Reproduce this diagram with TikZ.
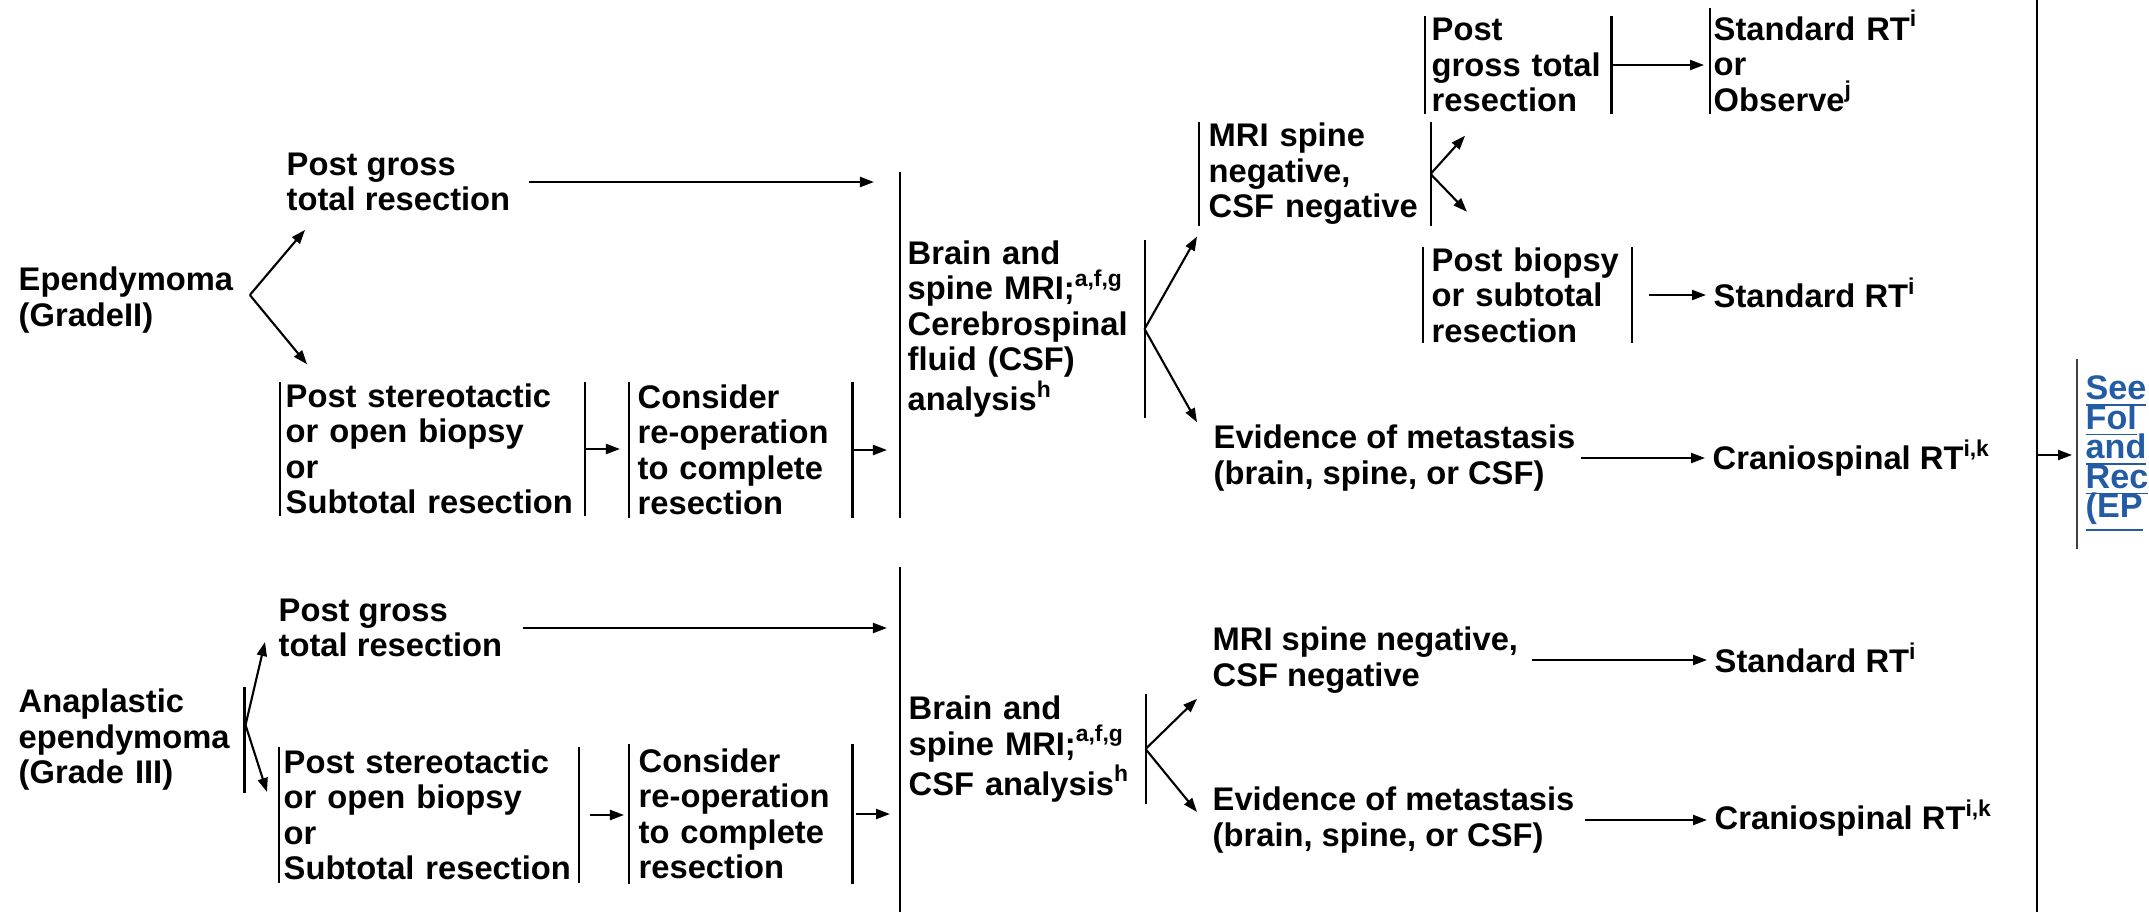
\documentclass[tikz,border=0pt]{standalone}
\usepackage{fontspec}
\setmainfont{Liberation Sans}
\usetikzlibrary{arrows.meta,calc}
\definecolor{linkblue}{RGB}{35,92,165}
\newcommand\dtext{\fontsize{9.3pt}{10.1pt}\selectfont\bfseries}
\newcommand\linktext{\fontsize{9.7pt}{8.4pt}\selectfont\bfseries\lineskiplimit=-5pt}
\begin{document}
\begin{tikzpicture}[x=0.01cm,y=-0.01cm,
  every node/.style={font=\dtext, align=left, anchor=west, inner sep=0pt},
  bar/.style={line width=0.6pt},
  arr/.style={line width=0.6pt, -{Triangle[length=1.4mm,width=1.0mm]}}]
\useasboundingbox (0,0) rectangle (2149,912);

% ---------- Ependymoma (upper pathway) ----------
\node (ep1) at (18,300) {Ependymoma\\(GradeII)};
\node (pg1) at (286,182) {Post gross\\total resection};
\node[inner xsep=0.05cm, text width=2.93cm, minimum height=1.32cm] (ps1) at (280,449)
  {Post stereotactic\\or open biopsy\\or\\Subtotal resection};
\node[inner xsep=0.08cm, text width=2.06cm, minimum height=1.35cm] (c1) at (629,450)
  {Consider\\re-operation\\to complete\\resection};
\node[inner xsep=0.07cm, text width=2.29cm, minimum height=1.70cm] (b1) at (900,329)
  {Brain and\\spine MRI;\textsuperscript{a,f,g}\\Cerebrospinal\\fluid (CSF)\\analysis\textsuperscript{h}};
\node[inner xsep=0.09cm, text width=2.12cm, minimum height=0.93cm] (m1) at (1199,174)
  {MRI spine\\negative,\\CSF negative};
\node[inner xsep=0.06cm, text width=1.73cm, minimum height=0.96cm] (g1) at (1425,65)
  {Post\\gross total\\resection};
\node[inner xsep=0.03cm, text width=2.5cm, minimum height=1.05cm] (s1) at (1710,61)
  {Standard RT\textsuperscript{i}\\or\\Observe\textsuperscript{j}};
\node[inner xsep=0.08cm, text width=1.91cm, minimum height=0.95cm] (p1) at (1423,295)
  {Post biopsy\\or subtotal\\resection};
\node[inner xsep=0.07cm] (s2) at (1706,293) {Standard RT\textsuperscript{i}};
\node (e1) at (1213,458) {Evidence of metastasis\\(brain, spine, or CSF)};
\node[inner xsep=0.07cm] (cr1) at (1705,458) {Craniospinal RT\textsuperscript{i,k}};

% ---------- Anaplastic ependymoma (lower pathway) ----------
\node[inner xsep=0.06cm, text width=2.19cm, minimum height=1.05cm] (an) at (12,740)
  {Anaplastic\\ependymoma\\(Grade III)};
\node (pg2) at (278,628) {Post gross\\total resection};
\node[inner xsep=0.04cm, text width=2.90cm, minimum height=1.35cm] (ps2) at (279,815)
  {Post stereotactic\\or open biopsy\\or\\Subtotal resection};
\node[inner xsep=0.09cm, text width=2.04cm, minimum height=1.38cm] (c2) at (629,814)
  {Consider\\re-operation\\to complete\\resection};
\node[inner xsep=0.08cm, text width=2.28cm, minimum height=1.09cm] (b2) at (900,749)
  {Brain and\\spine MRI;\textsuperscript{a,f,g}\\CSF analysis\textsuperscript{h}};
\node (m2) at (1212,660) {MRI spine negative,\\CSF negative};
\node[inner xsep=0.07cm] (s3) at (1707,658) {Standard RT\textsuperscript{i}};
\node (e2) at (1212,820) {Evidence of metastasis\\(brain, spine, or CSF)};
\node[inner xsep=0.07cm] (cr2) at (1707,818) {Craniospinal RT\textsuperscript{i,k}};

% ---------- shared follow-up link ----------
\coordinate (bbtop) at (2037,0);
\coordinate (bbbot) at (2037,912);
\coordinate (bbmid) at (2037,455);
\node[inner xsep=0.08cm, minimum height=1.88cm, font=\linktext, text=linkblue] (ep) at (2077,454)
  {\underline{See}\\\underline{Fol}\\\underline{and}\\\underline{Rec}\\\underline{(EP}};

% ---------- bracket bars ----------
\foreach \n in {ps1,c1,m1,g1,p1,ps2,c2}
  \draw[bar] (\n.north west) -- (\n.south west) (\n.north east) -- (\n.south east);
\draw[bar] (s1.north west) -- (s1.south west);
\draw[bar] (an.north east) -- (an.south east);
\draw[bar] ($(b1.west)+(0,-157)$) -- ($(b1.west)+(0,189)$);
\draw[bar] (b1.north east) -- (b1.south east);
\draw[bar] ($(b2.west)+(0,-182)$) -- ($(b2.west)+(0,163)$);
\draw[bar] (b2.north east) -- (b2.south east);
\draw[bar, line width=0.8pt] (bbtop) -- (bbbot);
\draw[bar, draw=black!75] (ep.north west) -- (ep.south west);

% ---------- connectors, upper pathway ----------
\coordinate (f1) at ($(ep1.east)+(16,-5)$);
\draw[arr] (f1) -- ($(pg1.south west)+(19,18)$);
\draw[arr] (f1) -- ($(ps1.north west)+(27,-18)$);
\draw[arr, shorten <=0.185cm, shorten >=0.26cm] (pg1.east) -- (pg1.east -| b1.west);
\draw[arr, shorten >=0.09cm] (ps1.east) -- (ps1.east -| c1.west);
\draw[arr, shorten >=0.13cm] (c1.east) -- (c1.east -| b1.west);
\draw[arr] (b1.east) -- ($(m1.south west)+(-2,11)$);
\draw[arr] (b1.east) -- ($(e1.north west)+(-16,-2)$);
\draw[arr] (m1.east) -- ($(g1.south west)+(40,22)$);
\draw[arr] (m1.east) -- ($(p1.north west)+(44,-35)$);
\draw[arr, shorten >=0.06cm] (g1.east) -- (g1.east -| s1.west);
\draw[arr, shorten <=0.17cm] (p1.east) -- (p1.east -| s2.west);
\draw[arr, shorten <=0.05cm] (e1.east) -- (e1.east -| cr1.west);
\draw[arr, shorten >=0.05cm] (bbmid) -- (bbmid -| ep.west);

% ---------- connectors, lower pathway ----------
\coordinate (f2) at ($(an.east)+(1,-15)$);
\draw[arr] (f2) -- ($(pg2.west)+(-13,14)$);
\draw[arr] (f2) -- ($(ps2.west)+(-12,-23)$);
\draw[arr, shorten <=0.20cm, shorten >=0.13cm] (pg2.east) -- (pg2.east -| b2.west);
\draw[arr, shorten <=0.11cm, shorten >=0.05cm] (ps2.east) -- (ps2.east -| c2.west);
\draw[arr, shorten <=0.03cm, shorten >=0.10cm] (c2.east) -- (c2.east -| b2.west);
\draw[arr] (b2.east) -- ($(m2.south west)+(-15,5)$);
\draw[arr] (b2.east) -- ($(e2.west)+(-15,-8)$);
\draw[arr, shorten <=0.13cm] (m2.east) -- (m2.east -| s3.west);
\draw[arr, shorten <=0.10cm] (e2.east) -- (e2.east -| cr2.west);
\end{tikzpicture}
\end{document}
